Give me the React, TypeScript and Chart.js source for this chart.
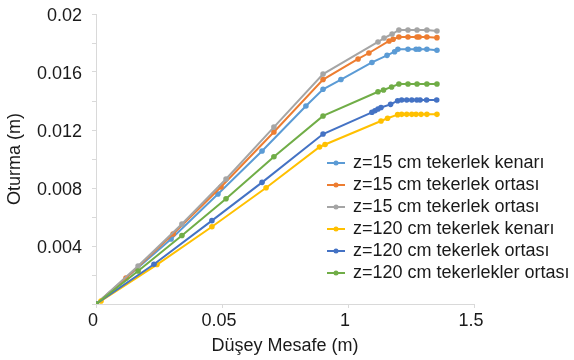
import React, { useEffect, useRef } from "react";
import { Chart, registerables } from "chart.js";

Chart.register(...registerables);

// Horizontal distance (m) and settlement (m) for each measurement line
const seriesNames = [
  "z=15 cm tekerlek kenarı",
  "z=15 cm tekerlek ortası",
  "z=15 cm tekerlek ortası",
  "z=120 cm tekerlek kenarı",
  "z=120 cm tekerlek ortası",
  "z=120 cm tekerlekler ortası",
];

const seriesColors = ["#5B9BD5", "#ED7D31", "#A5A5A5", "#FFC000", "#4472C4", "#70AD47"];

const lightBlueX = [0, 0.298, 0.484, 0.659, 0.833, 0.901, 0.972, 1.095, 1.155, 1.185, 1.198, 1.238, 1.27, 1.282, 1.313, 1.353];
const lightBlueY = [0, 0.00448, 0.00759, 0.01055, 0.01366, 0.01481, 0.01548, 0.01666, 0.01715, 0.0174, 0.01757, 0.01757, 0.01757, 0.01757, 0.01757, 0.0175];

const orangeX = [0, 0.119, 0.306, 0.496, 0.706, 0.901, 1.04, 1.083, 1.163, 1.179, 1.202, 1.238, 1.274, 1.282, 1.313, 1.353];
const orangeY = [0, 0.00179, 0.00483, 0.00807, 0.01186, 0.01548, 0.0169, 0.01731, 0.01814, 0.01826, 0.01841, 0.01841, 0.01841, 0.01841, 0.01841, 0.01837];

const grayX = [0, 0.167, 0.341, 0.516, 0.706, 0.901, 1.119, 1.143, 1.175, 1.202, 1.238, 1.274, 1.313, 1.353];
const grayY = [0, 0.00262, 0.00552, 0.00862, 0.0122, 0.01586, 0.01807, 0.01834, 0.01862, 0.0189, 0.0189, 0.0189, 0.0189, 0.01883];

const yellowX = [0.02, 0.242, 0.46, 0.675, 0.887, 0.909, 1.131, 1.157, 1.197, 1.213, 1.233, 1.253, 1.27, 1.29, 1.313, 1.353];
const yellowY = [0.00021, 0.00272, 0.00533, 0.00802, 0.01083, 0.011, 0.01262, 0.01281, 0.01306, 0.01308, 0.01308, 0.01308, 0.01308, 0.01308, 0.01308, 0.01308];

const darkBlueX = [0, 0.23, 0.46, 0.659, 0.901, 1.095, 1.107, 1.119, 1.131, 1.169, 1.197, 1.213, 1.233, 1.253, 1.273, 1.286, 1.312, 1.352];
const darkBlueY = [0, 0.00274, 0.00575, 0.00839, 0.01172, 0.01322, 0.01333, 0.01345, 0.01355, 0.01377, 0.01402, 0.01407, 0.01407, 0.01407, 0.01407, 0.01407, 0.01407, 0.01407];

const greenX = [0, 0.167, 0.341, 0.516, 0.706, 0.901, 1.119, 1.141, 1.173, 1.202, 1.238, 1.274, 1.313, 1.353];
const greenY = [0, 0.00228, 0.00472, 0.00726, 0.01016, 0.01297, 0.01464, 0.01476, 0.01497, 0.01517, 0.01517, 0.01517, 0.01517, 0.01517];

const xTickLabels = ["0", "0.05", "1", "1.5"];
const yTickLabels = ["0.004", "0.008", "0.012", "0.016", "0.02"];

const xTitle = "Düşey Mesafe (m)";
const yTitle = "Oturma (m)";

const FONT = '"Liberation Sans", Arial, sans-serif';
const TEXT_COLOR = "#1a1a1a";
const AXIS_COLOR = "#d9d9d9";

const zip = (xs: number[], ys: number[]) => xs.map((x, i) => ({ x, y: ys[i] }));

// Legend drawn inside the plot area, lower right
const insideLegend = {
  id: "insideLegend",
  afterDraw(chart: any) {
    const ctx = chart.ctx as CanvasRenderingContext2D;
    ctx.save();
    ctx.font = `18px ${FONT}`;
    ctx.textBaseline = "middle";
    ctx.textAlign = "left";
    seriesNames.forEach((name, i) => {
      const y = 163 + i * 22;
      const color = seriesColors[i];
      ctx.strokeStyle = color;
      ctx.lineWidth = 2;
      ctx.beginPath();
      ctx.moveTo(327, y);
      ctx.lineTo(345, y);
      ctx.stroke();
      ctx.fillStyle = color;
      ctx.beginPath();
      ctx.arc(336, y, 2.5, 0, Math.PI * 2);
      ctx.fill();
      ctx.fillStyle = TEXT_COLOR;
      ctx.fillText(name, 353, y);
    });
    ctx.restore();
  },
};

export default function App() {
  const canvasRef = useRef<HTMLCanvasElement>(null);

  useEffect(() => {
    if (!canvasRef.current) return;
    const dataSets = [
      zip(lightBlueX, lightBlueY),
      zip(orangeX, orangeY),
      zip(grayX, grayY),
      zip(yellowX, yellowY),
      zip(darkBlueX, darkBlueY),
      zip(greenX, greenY),
    ];
    const chart = new Chart(canvasRef.current, {
      type: "line",
      data: {
        datasets: dataSets.map((d, i) => ({
          label: seriesNames[i],
          data: d,
          borderColor: seriesColors[i],
          backgroundColor: seriesColors[i],
          borderWidth: 2,
          pointRadius: 2.8,
          pointBorderWidth: 0,
          pointHoverRadius: 3,
          tension: 0,
          fill: false,
          order: -i,
        })),
      },
      options: {
        animation: false,
        responsive: false,
        devicePixelRatio: 1,
        layout: { padding: { top: 14, right: 100, left: 0, bottom: 0 } },
        plugins: {
          legend: { display: false },
          tooltip: { enabled: false },
        },
        scales: {
          x: {
            type: "linear",
            min: 0,
            max: 1.5,
            afterFit: (s: any) => {
              s.height = 56;
              s.paddingLeft = 0;
              s.paddingRight = 0;
            },
            border: { display: true, color: AXIS_COLOR, width: 1 },
            grid: { drawOnChartArea: false, drawTicks: true, tickLength: 4, color: AXIS_COLOR },
            ticks: {
              stepSize: 0.5,
              autoSkip: false,
              maxRotation: 0,
              padding: 2,
              labelOffset: -3,
              color: TEXT_COLOR,
              font: { family: FONT, size: 18 },
              callback: (_v: any, i: number) => xTickLabels[i] ?? "",
            },
            title: {
              display: true,
              text: xTitle,
              color: TEXT_COLOR,
              font: { family: FONT, size: 18 },
              padding: { top: 0, bottom: 3 },
            },
          },
          y: {
            type: "linear",
            min: 0,
            max: 0.02,
            afterFit: (s: any) => {
              s.width = 96;
              s.paddingTop = 0;
              s.paddingBottom = 0;
            },
            border: { display: true, color: AXIS_COLOR, width: 1 },
            grid: { drawOnChartArea: false, drawTicks: true, tickLength: 4, color: AXIS_COLOR },
            ticks: {
              stepSize: 0.002,
              autoSkip: false,
              padding: 10,
              labelOffset: 2,
              color: TEXT_COLOR,
              font: { family: FONT, size: 18 },
              callback: (v: any) => {
                const k = Math.round(Number(v) / 0.004);
                const isMajor = Math.abs(Number(v) - k * 0.004) < 1e-9;
                return isMajor && k > 0 ? yTickLabels[k - 1] : "";
              },
            },
            title: {
              display: true,
              text: yTitle,
              color: TEXT_COLOR,
              font: { family: FONT, size: 18 },
              padding: { top: 4, bottom: 0 },
            },
          },
        },
      },
      plugins: [insideLegend],
    });
    return () => chart.destroy();
  }, []);

  return (
    <div style={{ position: "absolute", left: 0, top: 0, width: 574, height: 360, background: "#fff" }}>
      <canvas ref={canvasRef} width={574} height={360} style={{ display: "block" }} />
    </div>
  );
}
